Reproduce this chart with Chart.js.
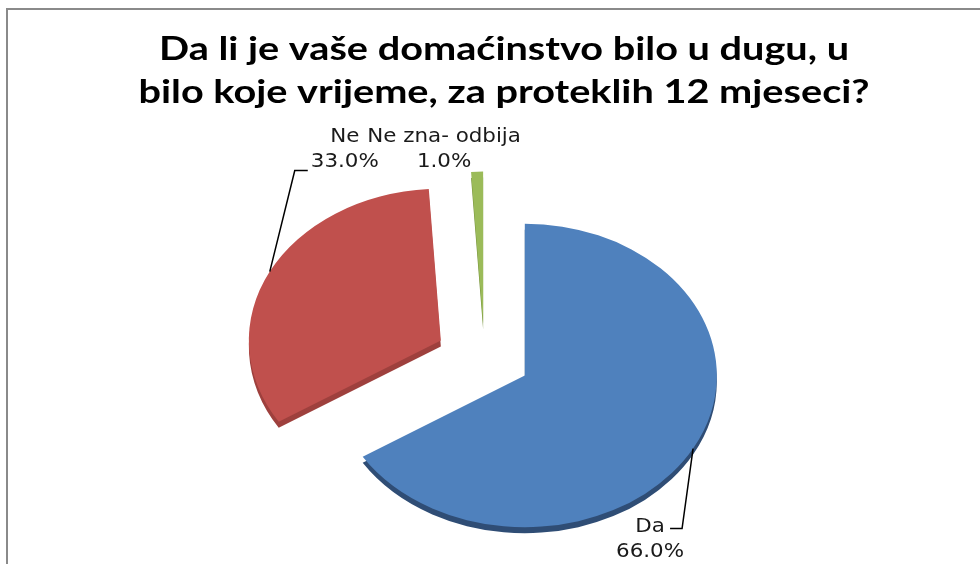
<!DOCTYPE html>
<html lang="bs">
<head>
<meta charset="UTF-8">
<title>Dug domaćinstva</title>
<script src="https://cdn.jsdelivr.net/npm/chart.js"></script>
<style>
  html, body { margin: 0; padding: 0; background: #fff; }
  .chart-container { position: relative; width: 980px; height: 564px; }
</style>
</head>
<body>
<div class="chart-container"><canvas id="debtChart"></canvas></div>
<script>
const titleLines = ['Da li je vaše domaćinstvo bilo u dugu, u', 'bilo koje vrijeme, za proteklih 12 mjeseci?'];
const categories = ['Da', 'Ne', 'Ne zna- odbija'];
const shares = [66.0, 33.0, 1.0];
const sliceColors = ['#4F81BD', '#C0504D', '#9BBB59'];
const sideColors = ['#2F4D75', '#9E403D', '#76923C'];

// fake 3D: vertical squash, thickness and how far each slice is pulled out
const tilt = 0.79;
const depth = 6;
const explode = [46, 49, 44];

// label placement relative to the rim point at each slice's mid angle
const labelLayout = [
    { dx: -43, dy: 78, leader: [[0, 0], [-11, 80], [-23, 80]] },
    { dx: 75, dy: -135, leader: [[0, 0], [25, -101], [38, -101]] },
    { dx: -33, dy: -35, leader: null }
];

function rimPoint(arc, i) {
    const mid = (arc.startAngle + arc.endAngle) / 2;
    const r = explode[i] + arc.outerRadius;
    return { x: arc.x + Math.cos(mid) * r, y: arc.y + Math.sin(mid) * r * tilt };
}

const tiltedPie = {
    id: 'tiltedPie',
    beforeDraw(chart) {
        const ctx = chart.ctx;
        ctx.save();
        ctx.fillStyle = '#8a8a8a';
        ctx.fillRect(6, 8, 974, 2);
        ctx.fillRect(6, 8, 2, 556);
        ctx.restore();
    },
    beforeDatasetsDraw(chart) {
        const ctx = chart.ctx;
        const meta = chart.getDatasetMeta(0);
        const cx = meta.data[0].x, cy = meta.data[0].y;
        ctx.save();
        ctx.translate(cx, cy);
        ctx.scale(1, tilt);
        ctx.translate(-cx, -cy);
        // sides first, then top faces
        [true, false].forEach(side => {
            meta.data.forEach((arc, i) => {
                const mid = (arc.startAngle + arc.endAngle) / 2;
                ctx.save();
                ctx.translate(Math.cos(mid) * explode[i], Math.sin(mid) * explode[i] + (side ? depth / tilt : 0));
                if (side) {
                    const ghost = Object.create(arc);
                    ghost.options = { ...arc.options, backgroundColor: sideColors[i] };
                    ghost.draw(ctx);
                } else {
                    arc.draw(ctx);
                }
                ctx.restore();
            });
        });
        ctx.restore();
        return false;
    },
    afterDraw(chart) {
        const ctx = chart.ctx;
        const meta = chart.getDatasetMeta(0);
        ctx.save();

        // labels with leader lines
        ctx.strokeStyle = '#000';
        ctx.lineWidth = 1.5;
        ctx.fillStyle = '#1a1a1a';
        ctx.font = '20px "DejaVu Sans"';
        ctx.textAlign = 'center';
        ctx.textBaseline = 'middle';
        meta.data.forEach((arc, i) => {
            const p = rimPoint(arc, i);
            const lay = labelLayout[i];
            if (lay.leader) {
                ctx.beginPath();
                lay.leader.forEach(([dx, dy], j) => {
                    if (j === 0) ctx.moveTo(p.x + dx, p.y + dy);
                    else ctx.lineTo(p.x + dx, p.y + dy);
                });
                ctx.stroke();
            }
            ctx.save();
            ctx.translate(p.x + lay.dx, p.y + lay.dy);
            ctx.scale(1.07, 1);
            ctx.fillText(categories[i], 0, 0);
            ctx.fillText(shares[i].toFixed(1) + '%', 0, 25);
            ctx.restore();
        });

        // title
        ctx.fillStyle = '#000';
        ctx.font = 'bold 32px Lato';
        ctx.textBaseline = 'alphabetic';
        const sx = 690 / ctx.measureText(titleLines[0]).width;
        ctx.translate(504, 0);
        ctx.scale(sx, 1);
        ctx.fillText(titleLines[0], 0, 60);
        ctx.fillText(titleLines[1], 0, 103);
        ctx.restore();
    }
};

new Chart(document.getElementById('debtChart'), {
    type: 'pie',
    data: {
        labels: categories,
        datasets: [{
            data: shares,
            backgroundColor: sliceColors,
            borderWidth: 0,
            radius: 192
        }]
    },
    options: {
        responsive: true,
        maintainAspectRatio: false,
        animation: false,
        layout: { padding: { top: 152, bottom: 0, left: 0, right: 11 } },
        plugins: {
            legend: { display: false },
            title: { display: false },
            tooltip: { enabled: false }
        }
    },
    plugins: [tiltedPie]
});
</script>
</body>
</html>
